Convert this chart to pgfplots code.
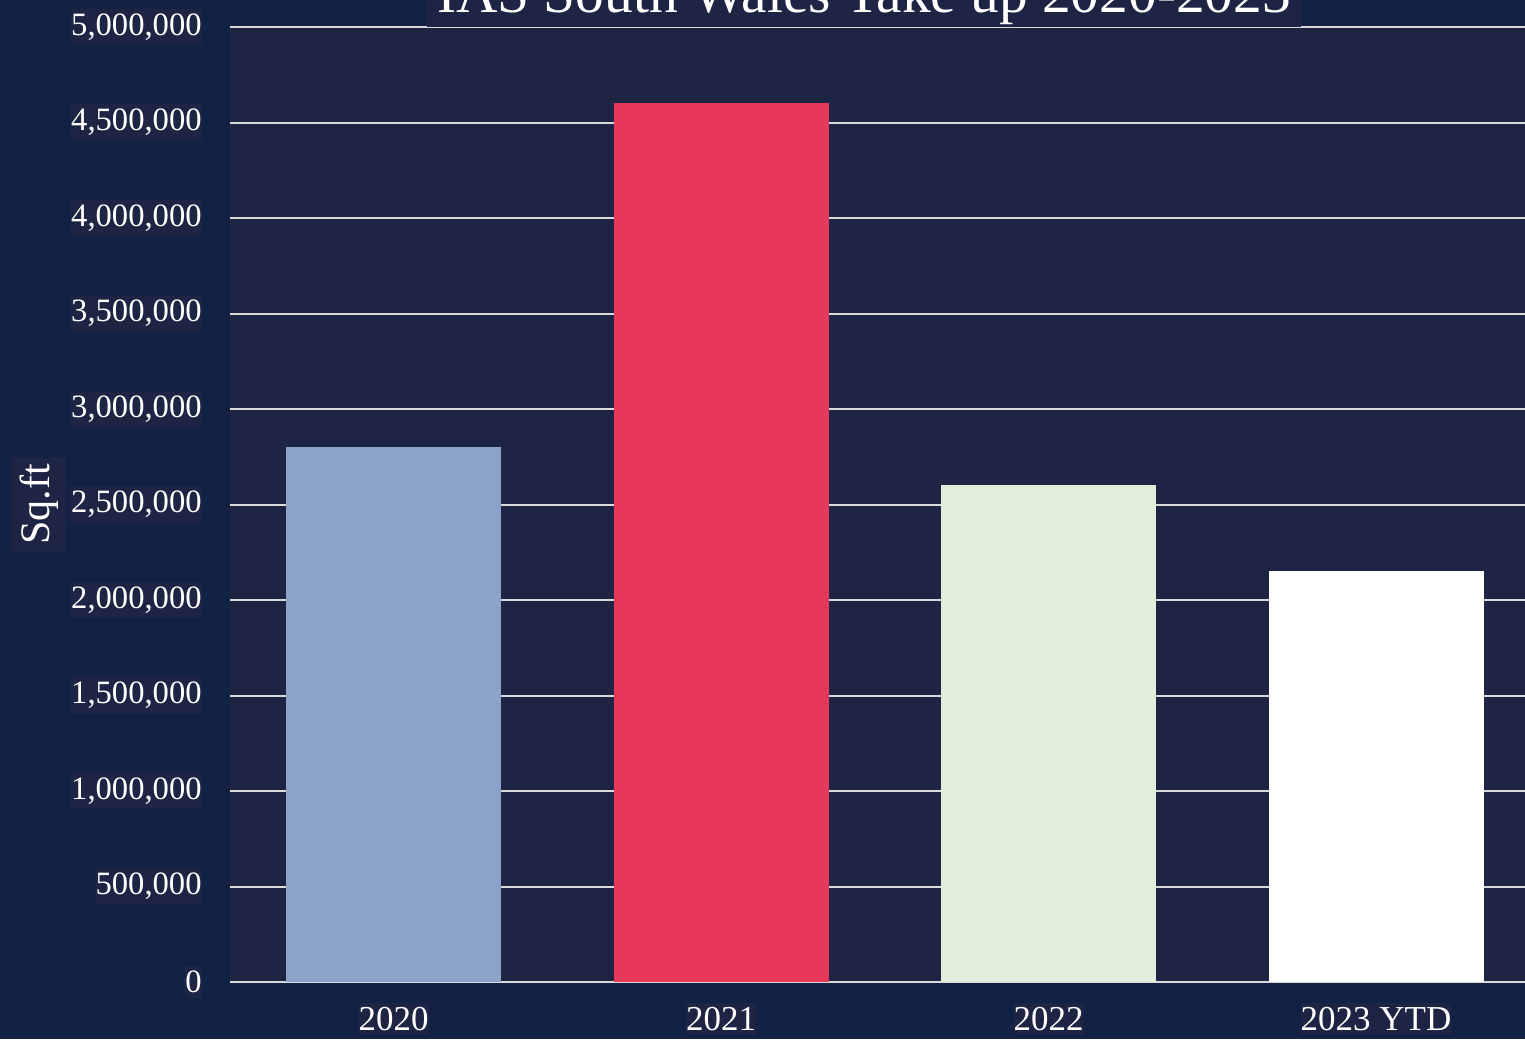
\documentclass[border=0pt]{standalone}
\usepackage{pgfplots}
\pgfplotsset{compat=1.18}
\usepackage{fontspec}
\setmainfont{Liberation Serif}
\definecolor{outerbg}{HTML}{132144}
\definecolor{plotbg}{HTML}{1E2443}
\definecolor{gridc}{HTML}{D9D9D9}
\definecolor{barA}{HTML}{8DA2C8}
\definecolor{barB}{HTML}{E6395A}
\definecolor{barC}{HTML}{E2EEDA}
\definecolor{barD}{HTML}{FFFFFF}
\begin{document}
\begin{tikzpicture}[x=1pt,y=1pt]
\fill[outerbg] (0,0) rectangle (762.5,519.5);
\useasboundingbox (0,0) rectangle (762.5,519.5);
\begin{axis}[
  at={(115pt,28.5pt)}, anchor=south west,
  scale only axis, width=647.5pt, height=477.5pt,
  xmin=-0.5, xmax=3.455, ymin=0, ymax=5000000,
  axis background/.style={fill=plotbg},
  axis line style={draw=none},
  major tick length=0pt,
  ymajorgrids, grid style={draw=gridc, line width=1pt},
  ytick={0,500000,1000000,1500000,2000000,2500000,3000000,3500000,4000000,4500000,5000000},
  scaled y ticks=false,
  /pgf/number format/fixed,
  /pgf/number format/1000 sep={,},
  /pgf/number format/assume math mode=true,
  yticklabel style={font=\fontsize{16.3}{19}\selectfont, text=white, fill=plotbg, inner xsep=0pt, inner ysep=2.5pt, xshift=-14pt},
  xtick={0,1,2,3},
  xticklabels={2020,2021,2022,2023 YTD},
  xticklabel style={font=\fontsize{17.5}{20}\selectfont, text=white, fill=plotbg, inner xsep=0pt, inner ysep=2pt, yshift=-10.5pt},
  ylabel={Sq.ft},
  ylabel style={at={(axis description cs:-0.1475,0.5)}, anchor=center, rotate=0, font=\fontsize{21}{24}\selectfont, text=white, fill=plotbg, inner xsep=3pt, inner ysep=4pt},
  ybar, bar width=107.5pt,
  clip=false,
]
\addplot[fill=barA, draw=none, bar shift=0pt] coordinates {(0,2800000)};
\addplot[fill=barB, draw=none, bar shift=0pt] coordinates {(1,4600000)};
\addplot[fill=barC, draw=none, bar shift=0pt] coordinates {(2,2600000)};
\addplot[fill=barD, draw=none, bar shift=0pt] coordinates {(3,2150000)};
\end{axis}
\node[fill=plotbg, text=white, font=\fontsize{28.7}{32}\selectfont, anchor=base, inner xsep=5pt, inner ysep=1pt] at (432,513) {IAS South Wales Take up 2020-2023};
\end{tikzpicture}
\end{document}
